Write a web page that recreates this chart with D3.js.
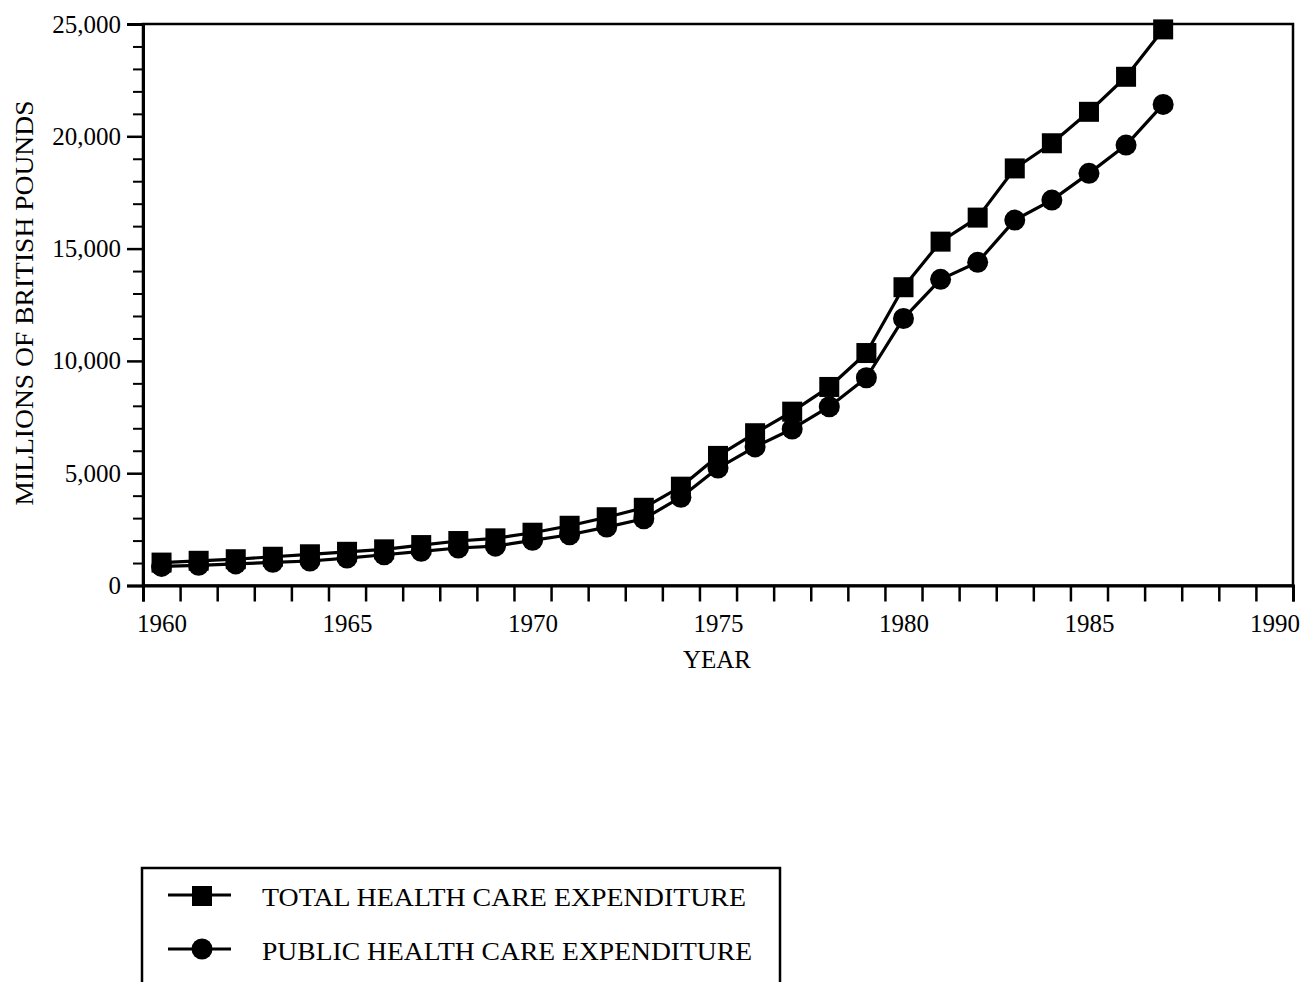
<!DOCTYPE html>
<html><head><meta charset="utf-8">
<script src="https://cdn.jsdelivr.net/npm/d3@7"></script>
<style>
html,body{margin:0;padding:0;background:#fff;}
svg{display:block;}
text{font-family:"Liberation Serif","DejaVu Serif",serif;fill:#000;}
</style></head>
<body>
<svg id="chart" width="1306" height="982"></svg>
<script>
const years = [1960,1961,1962,1963,1964,1965,1966,1967,1968,1969,1970,1971,1972,1973,1974,1975,1976,1977,1978,1979,1980,1981,1982,1983,1984,1985,1986,1987];
const totalExp = [1020,1100,1170,1280,1390,1500,1610,1800,1980,2100,2350,2660,3040,3460,4400,5770,6780,7740,8840,10350,13280,15310,16380,18570,19690,21090,22650,24760];
const publicExp = [850,900,960,1030,1090,1220,1370,1520,1670,1750,2010,2260,2600,2970,3930,5230,6170,6970,7960,9250,11890,13630,14390,16270,17160,18350,19610,21420];
const xTickLabels = [1960,1965,1970,1975,1980,1985,1990];
const yTickLabels = [0,5000,10000,15000,20000,25000];
const seriesNames = ["TOTAL HEALTH CARE EXPENDITURE","PUBLIC HEALTH CARE EXPENDITURE"];

const svg = d3.select("#chart");
const L = 143, R = 1293, T = 24, B = 585.5;
const x = d3.scaleLinear().domain([1959.5, 1990.5]).range([L, R]);
const y = d3.scaleLinear().domain([0, 25000]).range([B, T]);

// frame
svg.append("rect").attr("x", L).attr("y", T).attr("width", R - L).attr("height", B - T)
  .attr("fill", "none").attr("stroke", "#000").attr("stroke-width", 2.5);

// x ticks at year boundaries
const xBoundaries = d3.range(1959.5, 1991, 1);
const xAxisTicks = svg.append("g").attr("transform", `translate(0,${B})`)
  .call(d3.axisBottom(x).tickValues(xBoundaries).tickSize(16).tickFormat(""));
xAxisTicks.select(".domain").attr("stroke-width", 3);
xAxisTicks.selectAll(".tick line").attr("stroke-width", 2.5);

// x labels at year centers
const xLab = svg.append("g").attr("transform", `translate(0,${B})`)
  .call(d3.axisBottom(x).tickValues(xTickLabels).tickSize(0).tickPadding(29).tickFormat(d3.format("d")));
xLab.select(".domain").remove();
xLab.selectAll("text").style("font-size", "25px").style("font-family", '"Liberation Serif",serif');

// y axis major
const yMaj = svg.append("g").attr("transform", `translate(${L},0)`)
  .call(d3.axisLeft(y).tickValues(yTickLabels).tickSize(16).tickPadding(6).tickFormat(d3.format(",")));
yMaj.select(".domain").attr("stroke-width", 3);
yMaj.selectAll(".tick line").attr("stroke-width", 2.5);
yMaj.selectAll("text").style("font-size", "25px").style("font-family", '"Liberation Serif",serif');
// y axis minor
const minorVals = d3.range(0, 25001, 1000).filter(v => v % 5000 !== 0);
const yMin = svg.append("g").attr("transform", `translate(${L},0)`)
  .call(d3.axisLeft(y).tickValues(minorVals).tickSize(10).tickFormat(""));
yMin.select(".domain").remove();
yMin.selectAll(".tick line").attr("stroke-width", 2);

// axis titles
svg.append("text").attr("x", 717).attr("y", 668).attr("text-anchor", "middle")
  .style("font-size", "25px").text("YEAR");
svg.append("text").attr("transform", "translate(33,303) rotate(-90)").attr("text-anchor", "middle")
  .attr("textLength", 405).attr("lengthAdjust", "spacingAndGlyphs")
  .style("font-size", "26px").text("MILLIONS OF BRITISH POUNDS");

// lines
const line = d3.line().x((d, i) => x(years[i])).y(d => y(d));
[totalExp, publicExp].forEach(s => {
  svg.append("path").datum(s).attr("d", line).attr("fill", "none")
    .attr("stroke", "#000").attr("stroke-width", 3.2).attr("stroke-linejoin", "round");
});
// markers
const sq = 20;
svg.append("g").selectAll("rect").data(totalExp).join("rect")
  .attr("x", (d, i) => x(years[i]) - sq / 2).attr("y", d => y(d) - sq / 2)
  .attr("width", sq).attr("height", sq).attr("fill", "#000");
svg.append("g").selectAll("circle").data(publicExp).join("circle")
  .attr("cx", (d, i) => x(years[i])).attr("cy", d => y(d)).attr("r", 10.5).attr("fill", "#000");

// legend
svg.append("rect").attr("x", 142).attr("y", 868).attr("width", 638).attr("height", 140)
  .attr("fill", "none").attr("stroke", "#000").attr("stroke-width", 2.5);
const legY = [895, 949];
const legLen = [484, 490];
seriesNames.forEach((name, i) => {
  svg.append("line").attr("x1", 168).attr("x2", 231).attr("y1", legY[i]).attr("y2", legY[i])
    .attr("stroke", "#000").attr("stroke-width", 3.2);
  if (i === 0) {
    svg.append("rect").attr("x", 202 - sq / 2).attr("y", legY[i] - sq / 2 + 1).attr("width", sq).attr("height", sq).attr("fill", "#000");
  } else {
    svg.append("circle").attr("cx", 202).attr("cy", legY[i]).attr("r", 10.5).attr("fill", "#000");
  }
  svg.append("text").attr("x", 262).attr("y", legY[i] + 10.5)
    .attr("textLength", legLen[i]).attr("lengthAdjust", "spacingAndGlyphs")
    .style("font-size", "26px").text(name);
});
</script>
</body></html>
